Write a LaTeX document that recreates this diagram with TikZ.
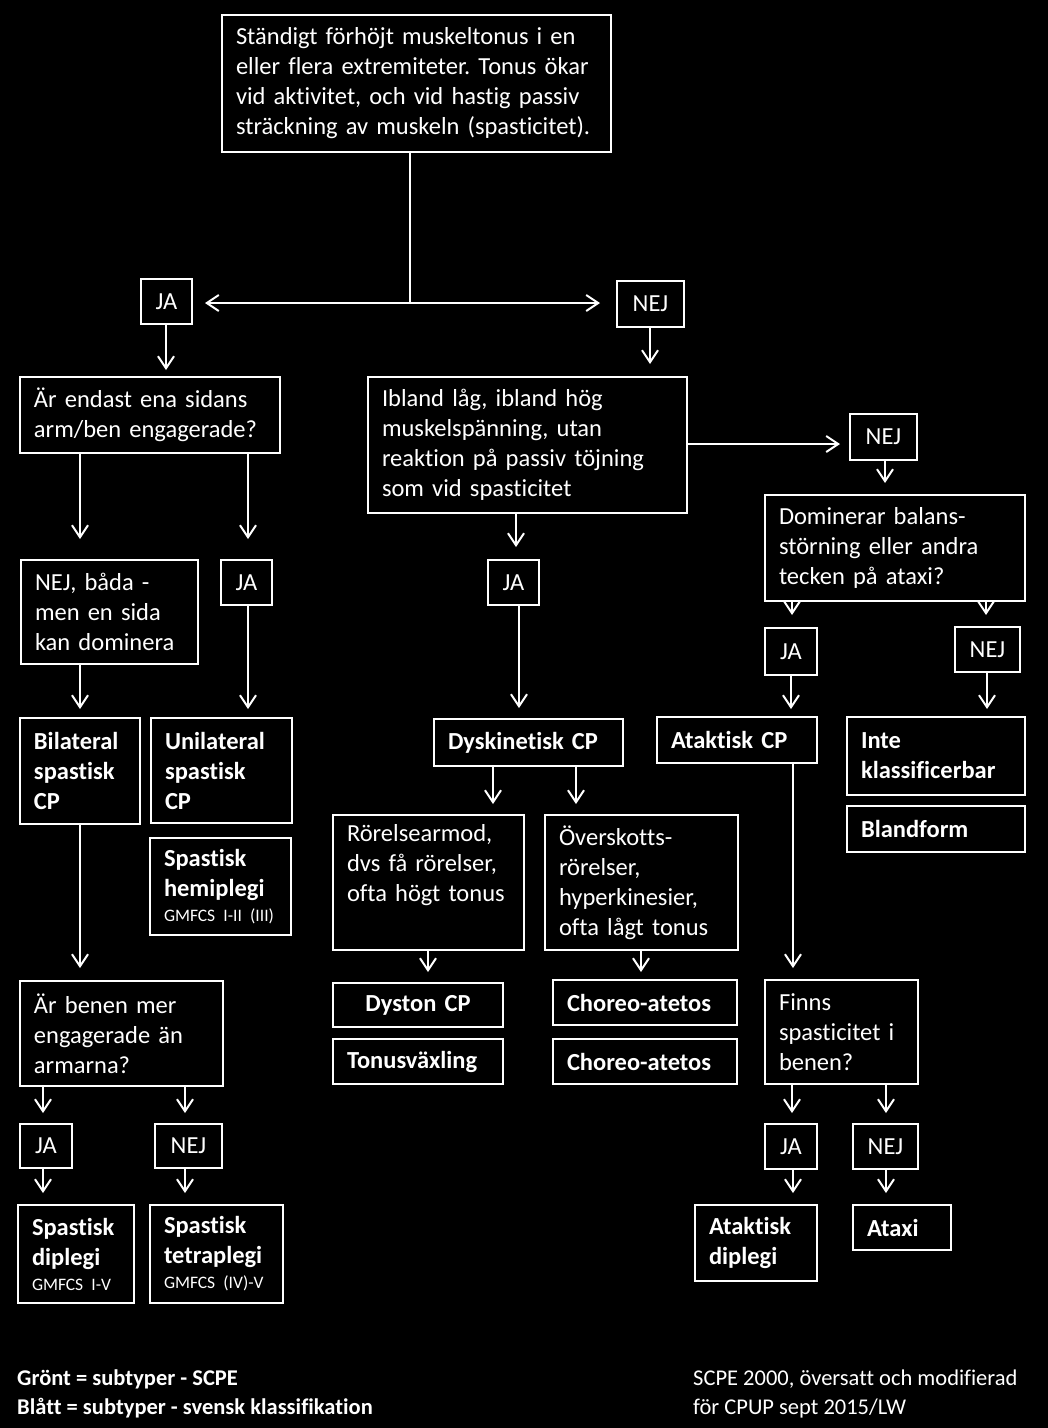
\documentclass[tikz,border=0pt]{standalone}
\usepackage{fontspec}
\setmainfont{Carlito}[Ligatures=NoCommon]
\frenchspacing
\usetikzlibrary{arrows.meta}
\tikzset{
  box/.style={draw=white, line width=1.6pt, text=white, anchor=north west,
    align=left, inner xsep=14pt, inner ysep=0pt, outer sep=0pt,
    font=\fontsize{24.5}{30}\selectfont},
  heavy/.style={font=\fontsize{24.5}{30}\selectfont\bfseries},
  yn/.style={align=center},
  plain/.style={draw=white, line width=2pt},
  arr/.style={draw=white, line width=2pt, -{Straight Barb[length=12pt,width=16pt]}},
  dblarr/.style={draw=white, line width=2pt, {Straight Barb[length=12pt,width=16pt]}-{Straight Barb[length=12pt,width=16pt]}},
  foot/.style={text=white, inner sep=0pt, anchor=base west, font=\fontsize{22.5}{29}\selectfont}
}
% #1 options, #2 name, #3 x, #4 y, #5 width, #6 height, #7 text
\newcommand\flowbox[7][]{%
  \pgfmathsetmacro\flowtw{#5-28}%
  \node[box,#1,minimum width=#5pt,minimum height=#6pt,text width=\flowtw pt] (#2) at (#3,#4) {#7};}
% vertical arrow: source, x offset, target, x offset, gap
\newcommand\varr[5]{\draw[arr,shorten >=#5pt] ([xshift=#2pt]#1.south west) -- ([xshift=#4pt]#3.north west);}
\newcommand\smalltxt[1]{{\mdseries\fontsize{17.5}{20}\selectfont #1}}
\begin{document}
\begin{tikzpicture}[x=1pt,y=-1pt]
\fill[black] (0,0) rectangle (1048,1428);
\useasboundingbox (0,0) rectangle (1048,1428);

% top
\flowbox{title}{222}{15}{389}{137}{Ständigt förhöjt muskeltonus i en\\ eller flera extremiteter. Tonus ökar\\ vid aktivitet, och vid hastig passiv\\ sträckning av muskeln (spasticitet).}
\flowbox[yn]{ja1}{141}{279}{51}{45}{JA}
\flowbox[yn]{nej1}{617}{281}{67}{46}{NEJ}

% left branch
\flowbox{endast}{20}{377}{260}{76}{Är endast ena sidans\\ arm/ben engagerade?}
\flowbox{nejb}{21}{560}{177}{104}{NEJ, båda -\\ men en sida\\ kan dominera}
\flowbox[yn]{ja2}{221}{560}{51}{45}{JA}
\flowbox[heavy]{bilat}{20}{718}{120}{106}{Bilateral\\ spastisk\\ CP}
\flowbox[heavy]{unilat}{151}{718}{141}{105}{Unilateral\\ spastisk\\ CP}
\flowbox[heavy]{hemi}{150}{838}{141}{97}{Spastisk\\ hemiplegi\\[-5pt] \smalltxt{GMFCS I-II (III)}}
\flowbox{benen}{20}{981}{203}{105}{Är benen mer\\ engagerade än\\ armarna?}
\flowbox[yn]{ja5}{20}{1124}{52}{44}{JA}
\flowbox[yn]{nej5}{155}{1124}{67}{44}{NEJ}
\flowbox[heavy]{sdip}{18}{1205}{116}{98}{Spastisk\\ diplegi\\[-5pt] \smalltxt{GMFCS I-V}}
\flowbox[heavy]{stet}{150}{1205}{133}{98}{Spastisk\\ tetraplegi\\[-5pt] \smalltxt{GMFCS (IV)-V}}

% middle branch
\flowbox{ibland}{368}{377}{319}{136}{Ibland låg, ibland hög\\ muskelspänning, utan\\ reaktion på passiv töjning\\ som vid spasticitet}
\flowbox[yn]{ja6}{488}{560}{51}{45}{JA}
\flowbox[heavy]{dysk}{434}{719}{189}{47}{Dyskinetisk CP}
\flowbox{rorel}{333}{815}{191}{135}{Rörelsearmod,\\ dvs få rörelser,\\ ofta högt tonus\\ \strut}
\flowbox{oversk}{545}{815}{193}{135}{Överskotts-\\ rörelser,\\ hyperkinesier,\\ ofta lågt tonus}
\flowbox[heavy,yn]{dyston}{333}{983}{170}{44}{Dyston CP}
\flowbox[heavy]{tonus}{333}{1039}{170}{45}{Tonusväxling}
\flowbox[heavy]{chor1}{553}{980}{184}{45}{Choreo-atetos}
\flowbox[heavy]{chor2}{553}{1039}{184}{45}{Choreo-atetos}

% right branch
\flowbox[yn]{nej2}{850}{414}{67}{46}{NEJ}
\flowbox{domin}{765}{495}{260}{106}{Dominerar balans-\\ störning eller andra\\ tecken på ataxi?}
\flowbox[yn]{ja3}{765}{628}{52}{47}{JA}
\flowbox[yn]{nej3}{955}{627}{65}{45}{NEJ}
\flowbox[heavy]{atak}{657}{717}{160}{46}{Ataktisk CP}
\flowbox[heavy]{inte}{847}{717}{178}{78}{Inte\\ klassificerbar}
\flowbox[heavy]{bland}{847}{806}{178}{46}{Blandform}
\flowbox{finns}{765}{980}{153}{104}{Finns\\ spasticitet i\\ benen?}
\flowbox[yn]{ja4}{765}{1124}{52}{45}{JA}
\flowbox[yn]{nej4}{853}{1124}{65}{45}{NEJ}
\flowbox[heavy]{atdip}{695}{1205}{122}{76}{Ataktisk\\ diplegi}
\flowbox[heavy]{ataxi}{853}{1205}{98}{45}{Ataxi}

% top split
\coordinate (jn) at (410,303);
\draw[plain] ([xshift=188pt]title.south west) -- (jn);
\draw[dblarr,shorten <=13pt,shorten >=17pt] (ja1.east |- jn) -- (nej1.west |- jn);

% arrows
\varr{ja1}{25}{endast}{146}{7}
\varr{nej1}{33}{ibland}{282}{13}
\draw[arr,shorten >=10pt] ([yshift=-67pt]ibland.north east) -- ([yshift=-30pt]nej2.north west);
\varr{nej2}{35}{domin}{120}{12}
\varr{domin}{27}{ja3}{27}{13}
\varr{domin}{221}{nej3}{31}{12}
\varr{ja3}{26}{atak}{134}{8}
\varr{nej3}{32}{inte}{140}{8}
\varr{atak}{136}{finns}{28}{12}
\varr{finns}{27}{ja4}{27}{11}
\varr{finns}{121}{nej4}{33}{11}
\varr{ja4}{28}{atdip}{98}{12}
\varr{nej4}{33}{ataxi}{33}{12}

\varr{endast}{60}{nejb}{59}{21}
\varr{endast}{228}{ja2}{27}{21}
\varr{nejb}{59}{bilat}{60}{9}
\varr{ja2}{27}{unilat}{97}{9}
\varr{bilat}{60}{benen}{60}{13}
\varr{benen}{23}{ja5}{23}{11}
\varr{benen}{165}{nej5}{30}{11}
\varr{ja5}{23}{sdip}{25}{12}
\varr{nej5}{30}{stet}{35}{12}

\varr{ibland}{148}{ja6}{28}{13}
\varr{ja6}{31}{dysk}{85}{11}
\varr{dysk}{59}{rorel}{160}{11}
\varr{dysk}{142}{oversk}{31}{11}
\varr{rorel}{95}{dyston}{95}{11}
\varr{oversk}{96}{chor1}{88}{8}

% footer
\node[foot] (f1) at (17,1385) {\bfseries Grönt = subtyper - SCPE};
\node[foot] (f2) at (17,1414) {\bfseries Blått = subtyper - svensk klassifikation};
\node[foot] (f3) at (693,1385) {SCPE 2000, översatt och modifierad};
\node[foot] (f4) at (693,1414) {för CPUP sept 2015/LW};
\end{tikzpicture}
\end{document}
